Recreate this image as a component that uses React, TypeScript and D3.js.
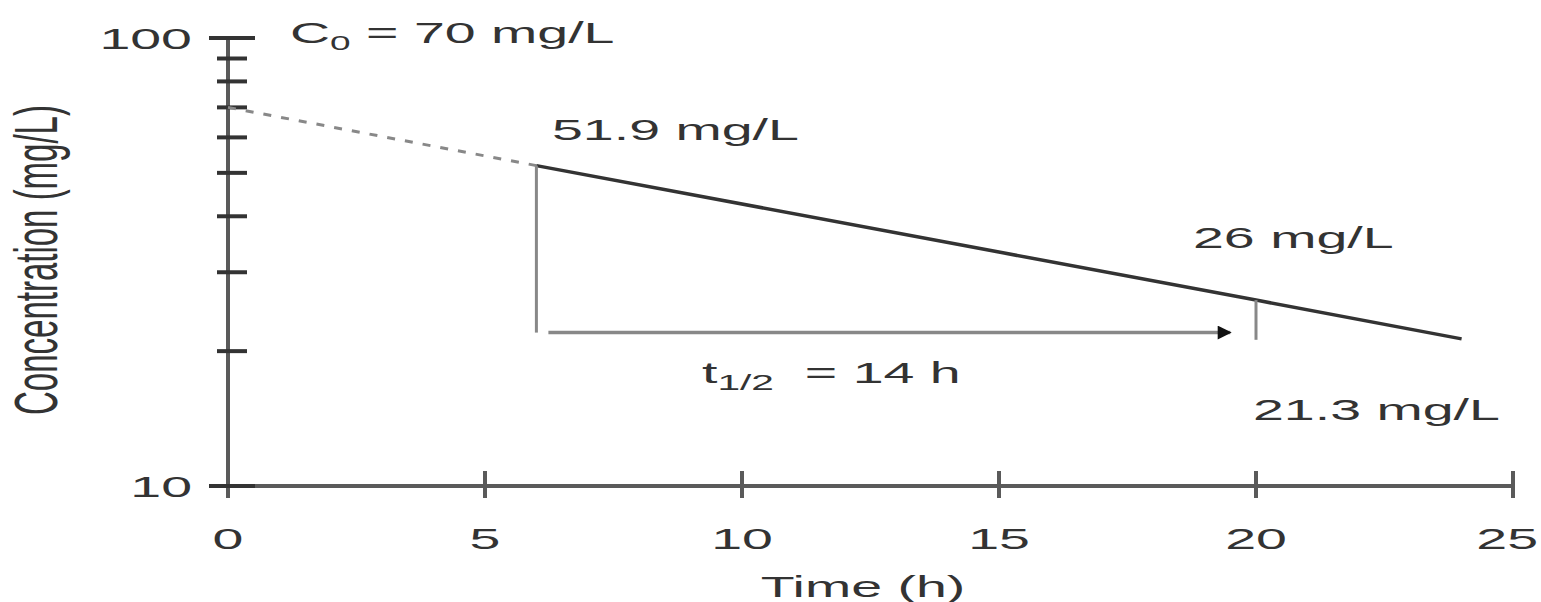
import React from 'react';
import * as d3 from 'd3';

// one-compartment decay
const timeH = [0, 6, 20, 24];
const concMgL = [70, 51.9, 26, 21.3];
const xTicks = [0, 5, 10, 15, 20, 25];
const yMajorTicks = [10, 100];
const yMinorTicks = [20, 30, 40, 50, 60, 70, 80, 90];
const halfLife = { from: 6, to: 20, level: 22, arrowEnd: 19.5, tickLow: 21.2 };

const W = 1541;
const H = 602;
const SX = 1.85; // the original is stretched sideways
const FONT = '"Liberation Sans", Arial, sans-serif';

const App = () => {
  const ref = React.useRef<SVGSVGElement>(null);

  React.useEffect(() => {
    const svg = d3.select(ref.current);
    svg.selectAll('*').remove();

    const x = d3.scaleLinear().domain([0, 25]).range([228, 1513]);
    const y = d3.scaleLog().domain([10, 100]).range([486, 38]);

    svg
      .append('defs')
      .append('marker')
      .attr('id', 'arrow')
      .attr('viewBox', '0 0 10 10')
      .attr('refX', 9)
      .attr('refY', 5)
      .attr('markerWidth', 5)
      .attr('markerHeight', 4)
      .attr('markerUnits', 'strokeWidth')
      .attr('orient', 'auto')
      .append('path')
      .attr('d', 'M0,0L10,5L0,10Z')
      .attr('fill', '#111');

    const text = (
      str: string,
      tx: number,
      ty: number,
      anchor = 'start',
      size = 30
    ) =>
      svg
        .append('text')
        .attr('transform', `translate(${tx},${ty}) scale(${SX},1)`)
        .attr('text-anchor', anchor)
        .attr('font-family', FONT)
        .attr('font-size', size)
        .attr('fill', '#333')
        .text(str);

    // axes
    const axis = svg.append('g').attr('stroke', '#5a5a5a');
    axis
      .append('line')
      .attr('x1', 209)
      .attr('x2', x(25))
      .attr('y1', y(10))
      .attr('y2', y(10))
      .attr('stroke-width', 4);
    axis
      .append('line')
      .attr('x1', x(0))
      .attr('x2', x(0))
      .attr('y1', y(100))
      .attr('y2', y(10) + 12)
      .attr('stroke-width', 4);

    axis
      .selectAll('.xt')
      .data(xTicks)
      .join('line')
      .attr('x1', (d) => x(d))
      .attr('x2', (d) => x(d))
      .attr('y1', y(10) - 15)
      .attr('y2', y(10) + 12)
      .attr('stroke-width', 4);

    axis
      .selectAll('.ymaj')
      .data(yMajorTicks)
      .join('line')
      .attr('x1', 209)
      .attr('x2', 255)
      .attr('y1', (d) => y(d))
      .attr('y2', (d) => y(d))
      .attr('stroke', '#333')
      .attr('stroke-width', 4);

    axis
      .selectAll('.ymin')
      .data(yMinorTicks)
      .join('line')
      .attr('x1', 217)
      .attr('x2', 247)
      .attr('y1', (d) => y(d))
      .attr('y2', (d) => y(d))
      .attr('stroke', '#333')
      .attr('stroke-width', 4);

    xTicks.forEach((t, i) => {
      // last label would run past the right edge, so pin it inside
      if (i === xTicks.length - 1) text(String(t), W - 3, 549, 'end');
      else text(String(t), x(t), 549, 'middle');
    });
    yMajorTicks.forEach((t) => text(String(t), 192, y(t) + 11, 'end'));

    // concentration line: back-extrapolated part dashed
    const line = d3
      .line<number>()
      .x((d) => x(timeH[d]))
      .y((d) => y(concMgL[d]));

    svg
      .append('path')
      .attr('d', line([0, 1]))
      .attr('fill', 'none')
      .attr('stroke', '#888')
      .attr('stroke-width', 3)
      .attr('stroke-dasharray', '8,10');

    svg
      .append('path')
      .attr('d', line([1, 2, 3]))
      .attr('fill', 'none')
      .attr('stroke', '#333')
      .attr('stroke-width', 3.5);

    // half-life construction
    svg
      .append('line')
      .attr('x1', x(halfLife.from))
      .attr('x2', x(halfLife.from))
      .attr('y1', y(concMgL[1]))
      .attr('y2', y(halfLife.level))
      .attr('stroke', '#888')
      .attr('stroke-width', 3);

    svg
      .append('line')
      .attr('x1', x(halfLife.from) + 12)
      .attr('x2', x(halfLife.arrowEnd))
      .attr('y1', y(halfLife.level))
      .attr('y2', y(halfLife.level))
      .attr('stroke', '#888')
      .attr('stroke-width', 3.5)
      .attr('marker-end', 'url(#arrow)');

    svg
      .append('line')
      .attr('x1', x(halfLife.to))
      .attr('x2', x(halfLife.to))
      .attr('y1', y(concMgL[2]))
      .attr('y2', y(halfLife.tickLow))
      .attr('stroke', '#888')
      .attr('stroke-width', 3);

    // labels
    const c0 = text('C', 290, 43);
    c0.append('tspan').attr('font-size', 20).attr('dy', 7).text('0');
    c0.append('tspan').attr('dy', -7).text(' = 70 mg/L');

    text('51.9 mg/L', 552, 140);
    text('26 mg/L', 1193, 248);
    text('21.3 mg/L', 1253, 420);

    const th = text('t', 702, 383);
    th.append('tspan').attr('font-size', 22).attr('dy', 7).text('1/2');
    th.append('tspan').attr('dy', -7).attr('xml:space', 'preserve').text('  = 14 h');

    text('Time (h)', 863, 597, 'middle');

    svg
      .append('text')
      .attr('transform', `translate(57,260) scale(${SX},1) rotate(-90)`)
      .attr('text-anchor', 'middle')
      .attr('font-family', FONT)
      .attr('font-size', 33)
      .attr('fill', '#333')
      .text('Concentration (mg/L)');
  }, []);

  return (
    <svg
      ref={ref}
      width={W}
      height={H}
      style={{ position: 'absolute', left: 0, top: 0, background: '#fff' }}
    />
  );
};

export default App;
